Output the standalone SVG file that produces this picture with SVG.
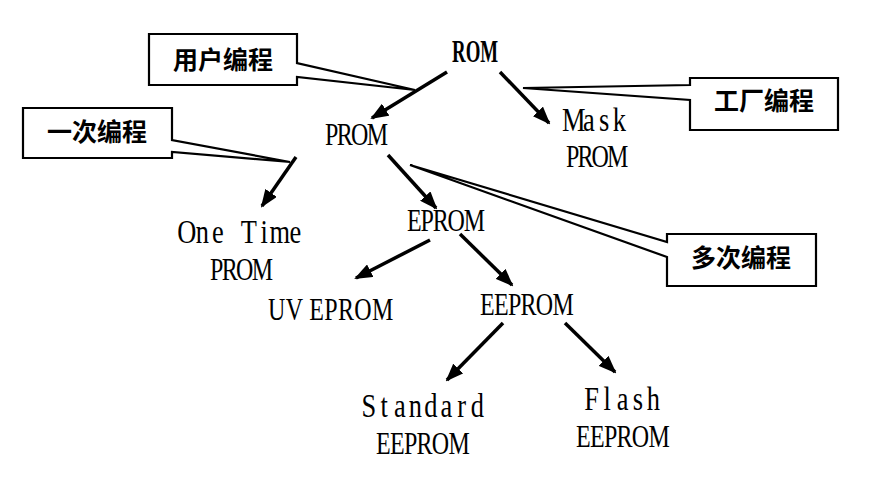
<svg xmlns="http://www.w3.org/2000/svg" width="876" height="489" viewBox="0 0 876 489">
<style>
.t{font-family:"Liberation Serif","DejaVu Serif",serif;font-size:32px;fill:#000;}
.m{text-anchor:middle;font-size:33px;}
.b{font-family:"Liberation Serif","DejaVu Serif",serif;font-size:32px;font-weight:bold;fill:#000;}
.c{font-family:"Noto Sans CJK SC","Noto Sans",sans-serif;font-size:25px;font-weight:bold;fill:#000;}
.co{fill:#fff;stroke:#000;stroke-width:2.2;}
.ar{stroke:#000;stroke-width:3.5;fill:none;marker-end:url(#ah);}
</style>
<defs>
<marker id="ah" markerUnits="userSpaceOnUse" markerWidth="18" markerHeight="14" refX="16" refY="7" orient="auto">
<path d="M0,0 L18,7 L0,14 Z" fill="#000"/>
</marker>
</defs>
<g id="callouts">
<g id="c-user"><path class="co" d="M149,34 H297 V63 L415,90 L297,77 V85 H149 Z"/><text class="c" x="223" y="69" text-anchor="middle">用户编程</text></g>
<g id="c-factory"><path class="co" d="M690,78 H838 V130 H690 V100 L523,88 L690,85 Z"/><text class="c" x="764" y="110" text-anchor="middle">工厂编程</text></g>
<g id="c-once"><path class="co" d="M23,108 H172 V140 L290,162 L172,152 V158 H23 Z"/><text class="c" x="97" y="141" text-anchor="middle">一次编程</text></g>
<g id="c-multi"><path class="co" d="M667,234 H816 V286 H667 V257 L410,165 L667,242 Z"/><text class="c" x="741" y="267" text-anchor="middle">多次编程</text></g>
</g>
<g id="connectors">
<line class="ar" x1="447" y1="72" x2="372" y2="118"/>
<line class="ar" x1="500" y1="72" x2="549" y2="123"/>
<line class="ar" x1="296" y1="157" x2="262" y2="206"/>
<line class="ar" x1="388" y1="155" x2="436" y2="208"/>
<line class="ar" x1="430" y1="240" x2="356" y2="278"/>
<line class="ar" x1="460" y1="234" x2="512" y2="285"/>
<line class="ar" x1="503" y1="323" x2="447" y2="380"/>
<line class="ar" x1="565" y1="323" x2="615" y2="372"/>
</g>
<g id="n-rom"><text class="b" transform="translate(452,62) scale(0.59,1)">ROM</text></g>
<g id="n-prom"><text class="t" transform="translate(325,145) scale(0.75,1)" textLength="84" lengthAdjust="spacing">PROM</text></g>
<g id="n-mask"><text class="t m" transform="translate(566,131) scale(0.8,1)" x="9.53 28.59 47.66 66.72">Mask</text><text class="t" transform="translate(566,167) scale(0.75,1)" textLength="83" lengthAdjust="spacing">PROM</text></g>
<g id="n-onetime"><text class="t m" transform="translate(179,243) scale(0.8,1)" x="9.69 29.06 48.44 67.81 87.19 106.56 125.94 145.31">One Time</text><text class="t" transform="translate(210,280) scale(0.75,1)" textLength="84" lengthAdjust="spacing">PROM</text></g>
<g id="n-eprom"><text class="t" transform="translate(407,231) scale(0.75,1)" textLength="104" lengthAdjust="spacing">EPROM</text></g>
<g id="n-uveprom"><text class="t" transform="translate(268,320) scale(0.75,1)" textLength="167" lengthAdjust="spacing">UV EPROM</text></g>
<g id="n-eeprom"><text class="t" transform="translate(480,315) scale(0.75,1)" textLength="125" lengthAdjust="spacing">EEPROM</text></g>
<g id="n-standard"><text class="t m" transform="translate(361,417) scale(0.8,1)" x="9.69 29.06 48.44 67.81 87.19 106.56 125.94 145.31">Standard</text><text class="t" transform="translate(376,454) scale(0.75,1)" textLength="125" lengthAdjust="spacing">EEPROM</text></g>
<g id="n-flash"><text class="t m" transform="translate(584,410) scale(0.8,1)" x="9.63 28.88 48.13 67.38 86.63">Flash</text><text class="t" transform="translate(576,447) scale(0.75,1)" textLength="125" lengthAdjust="spacing">EEPROM</text></g>
</svg>
